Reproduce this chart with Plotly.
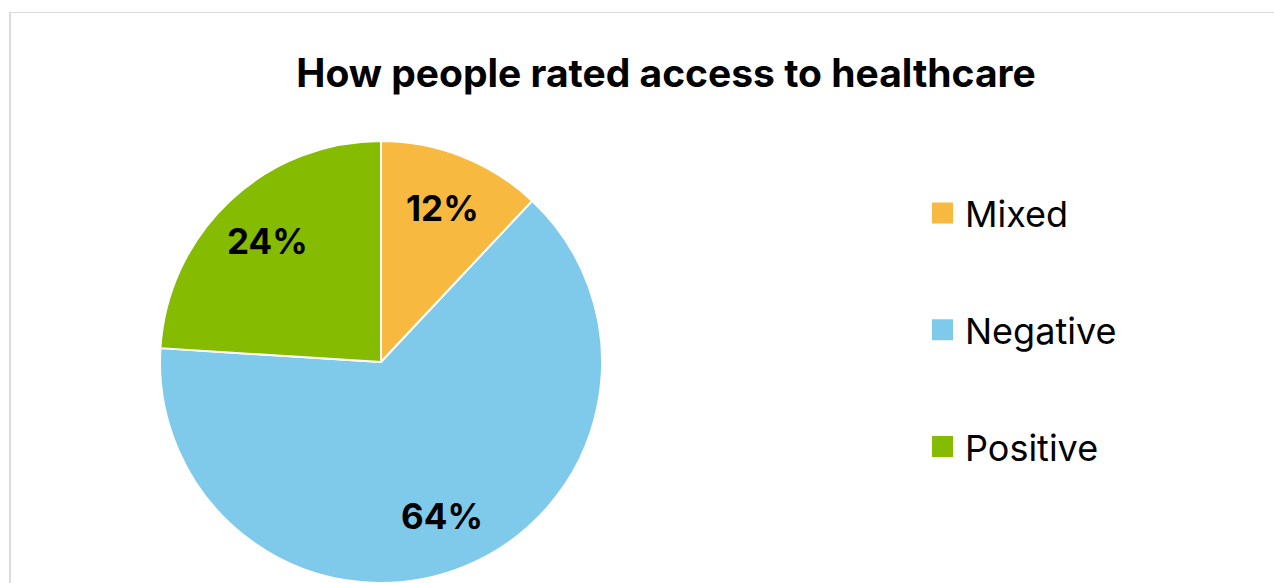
import math
import plotly.graph_objects as go

# Survey result: how people rated access to healthcare
categories = ["Mixed", "Negative", "Positive"]
shares = [12, 64, 24]
colors = ["#F8B941", "#7FCAEA", "#85BB00"]

W, H = 1274, 583
FONT = "Inter"

# Pie geometry in pixels (centre and radius), converted to a paper domain
cx, cy, r = 381, 362, 221
dom_x = [(cx - r) / W, (cx + r) / W]
dom_y = [1 - (cy + r) / H, 1 - (cy - r) / H]

fig = go.Figure()

fig.add_trace(go.Pie(
    labels=categories,
    values=shares,
    sort=False,
    direction="clockwise",
    rotation=0,
    marker=dict(colors=colors, line=dict(color="white", width=2)),
    textinfo="none",
    showlegend=False,
    domain=dict(x=dom_x, y=dom_y),
    hoverinfo="label+percent",
))

# Percentage labels placed at each slice's mid-angle, 3/4 of the way out
total = sum(shares)
label_radius = 0.75 * r
start = 0.0
annotations = []
for v in shares:
    sweep = 360.0 * v / total
    mid = math.radians(start + sweep / 2)
    px = cx + label_radius * math.sin(mid)
    py = cy - label_radius * math.cos(mid)
    annotations.append(dict(
        x=px / W, y=1 - py / H, xref="paper", yref="paper",
        text=f"<b>{v}%</b>", showarrow=False,
        xanchor="center", yanchor="middle",
        font=dict(family=FONT, size=35, color="black", weight=800),
    ))
    start += sweep

# Legend entries: one group per category so the rows can be spaced apart
for name, col in zip(categories, colors):
    fig.add_trace(go.Scatter(
        x=[None], y=[None], mode="markers", name=name,
        legendgroup=name,
        marker=dict(symbol="square", size=16, color=col,
                    line=dict(color=col, width=5)),
        hoverinfo="skip",
    ))

fig.update_layout(
    width=W, height=H,
    margin=dict(l=0, r=0, t=0, b=0),
    paper_bgcolor="white",
    plot_bgcolor="white",
    title=dict(
        text="<b>How people rated access to healthcare</b>",
        font=dict(family=FONT, size=39, color="black", weight=800),
        x=666 / W, xanchor="center",
        y=1 - 73 / H, yanchor="middle",
    ),
    xaxis=dict(visible=False),
    yaxis=dict(visible=False),
    showlegend=True,
    legend=dict(
        x=920 / W, xanchor="left",
        y=1 - 183 / H, yanchor="top",
        font=dict(family=FONT, size=36, color="black"),
        tracegroupgap=67,
        itemwidth=35,
        bgcolor="rgba(0,0,0,0)",
    ),
    annotations=annotations,
    shapes=[
        dict(type="line", xref="paper", yref="paper",
             x0=9.5 / W, x1=1.01, y0=1 - 12.5 / H, y1=1 - 12.5 / H,
             line=dict(color="#DADADA", width=1)),
        dict(type="line", xref="paper", yref="paper",
             x0=10 / W, x1=10 / W, y0=-0.01, y1=1 - 12 / H,
             line=dict(color="#DADADA", width=2)),
    ],
)

fig.write_html("out.html")
